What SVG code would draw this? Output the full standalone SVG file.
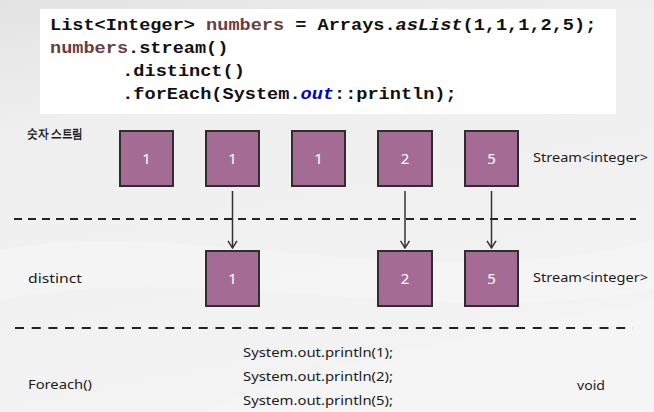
<svg xmlns="http://www.w3.org/2000/svg" width="654" height="412" viewBox="0 0 654 412">
  <defs>
    <linearGradient id="bg" x1="0" y1="0" x2="0.3" y2="1">
      <stop offset="0" stop-color="#e3e3e3"/>
      <stop offset="0.3" stop-color="#efefef"/>
      <stop offset="1" stop-color="#f3f3f3"/>
    </linearGradient>
    <marker id="arr" viewBox="0 0 10 12" refX="9" refY="6" markerWidth="9" markerHeight="11" markerUnits="userSpaceOnUse" orient="auto">
      <path d="M1,1 L9,6 L1,11" fill="none" stroke="#333" stroke-width="1.6"/>
    </marker>
    <style>
      .code { font-family: "Liberation Mono", "DejaVu Sans Mono", monospace; font-weight: bold; font-size: 17px; fill: #111; white-space: pre; }
      .var { fill: #6a3e3e; }
      .fld { fill: #0000c0; font-style: italic; }
      .it { font-style: italic; }
      .box { fill: #a46c94; stroke: #2e2e2e; stroke-width: 2; }
      .num { font-family: "Noto Sans", "Liberation Sans", sans-serif; font-size: 15px; fill: #ffffff; text-anchor: middle; }
      .lbl { font-family: "Noto Sans", "Liberation Sans", sans-serif; font-size: 13px; fill: #1c1c1c; }
      .dash1 { stroke: #222; stroke-width: 2; stroke-dasharray: 8 6; fill: none; }
      .dash2 { stroke: #222; stroke-width: 2; stroke-dasharray: 9 7.7; fill: none; }
      .conn { stroke: #333; stroke-width: 1.5; fill: none; }
    </style>
  </defs>

  <rect x="0" y="0" width="654" height="412" fill="url(#bg)"/>
  <path d="M0,250 C180,215 420,300 654,240 L654,290 C420,330 200,260 0,300 Z" fill="#ffffff" opacity="0.25"/>
  <path d="M200,412 C330,360 500,330 654,300 L654,412 Z" fill="#ffffff" opacity="0.2"/>

  <g id="code">
    <rect x="40" y="9" width="576" height="105" fill="#ffffff"/>
    <g transform="translate(50 0) scale(1.094 1)">
      <text class="code" x="0" y="30">List&lt;Integer&gt; <tspan class="var">numbers</tspan> = Arrays.<tspan class="it">asList</tspan>(1,1,1,2,5);</text>
      <text class="code" x="0" y="53"><tspan class="var">numbers</tspan>.stream()</text>
      <text class="code" x="66" y="76">.distinct()</text>
      <text class="code" x="66" y="99">.forEach(System.<tspan class="fld">out</tspan>::println);</text>
    </g>
  </g>

  <g id="labels">
    <text class="lbl" x="27" y="138" font-family="'Noto Sans CJK KR', sans-serif" font-size="13" font-weight="bold" textLength="56" lengthAdjust="spacingAndGlyphs">숫자 스트림</text>
    <text class="lbl" x="533" y="162" textLength="115" lengthAdjust="spacingAndGlyphs">Stream&lt;integer&gt;</text>
    <text class="lbl" x="28" y="283" textLength="54" lengthAdjust="spacingAndGlyphs">distinct</text>
    <text class="lbl" x="533" y="282" textLength="115" lengthAdjust="spacingAndGlyphs">Stream&lt;integer&gt;</text>
    <text class="lbl" x="28" y="389" textLength="64" lengthAdjust="spacingAndGlyphs">Foreach()</text>
    <text class="lbl" x="577" y="390" textLength="28" lengthAdjust="spacingAndGlyphs">void</text>
    <text class="lbl" x="243" y="357" textLength="150" lengthAdjust="spacingAndGlyphs">System.out.println(1);</text>
    <text class="lbl" x="243" y="381" textLength="150" lengthAdjust="spacingAndGlyphs">System.out.println(2);</text>
    <text class="lbl" x="243" y="405" textLength="150" lengthAdjust="spacingAndGlyphs">System.out.println(5);</text>
  </g>

  <g id="dividers">
    <line class="dash1" x1="14" y1="219" x2="636" y2="219"/>
    <line class="dash2" x1="15" y1="328" x2="633" y2="328"/>
  </g>

  <g id="connectors">
    <line class="conn" x1="232.5" y1="191" x2="232.5" y2="248" marker-end="url(#arr)"/>
    <line class="conn" x1="405" y1="191" x2="405" y2="248" marker-end="url(#arr)"/>
    <line class="conn" x1="491.5" y1="191" x2="491.5" y2="248" marker-end="url(#arr)"/>
  </g>

  <g id="s1"><rect class="box" x="120" y="131" width="53" height="55"/><text class="num" x="146.5" y="164">1</text></g>
  <g id="s2"><rect class="box" x="206" y="131" width="53" height="55"/><text class="num" x="232.5" y="164">1</text></g>
  <g id="s3"><rect class="box" x="292" y="131" width="53" height="55"/><text class="num" x="318.5" y="164">1</text></g>
  <g id="s4"><rect class="box" x="378" y="131" width="54" height="55"/><text class="num" x="405" y="164">2</text></g>
  <g id="s5"><rect class="box" x="465" y="131" width="53" height="55"/><text class="num" x="491.5" y="164">5</text></g>

  <g id="d1"><rect class="box" x="206" y="251" width="53" height="55"/><text class="num" x="232.5" y="284">1</text></g>
  <g id="d2"><rect class="box" x="378" y="251" width="54" height="55"/><text class="num" x="405" y="284">2</text></g>
  <g id="d3"><rect class="box" x="465" y="251" width="53" height="55"/><text class="num" x="491.5" y="284">5</text></g>
</svg>
